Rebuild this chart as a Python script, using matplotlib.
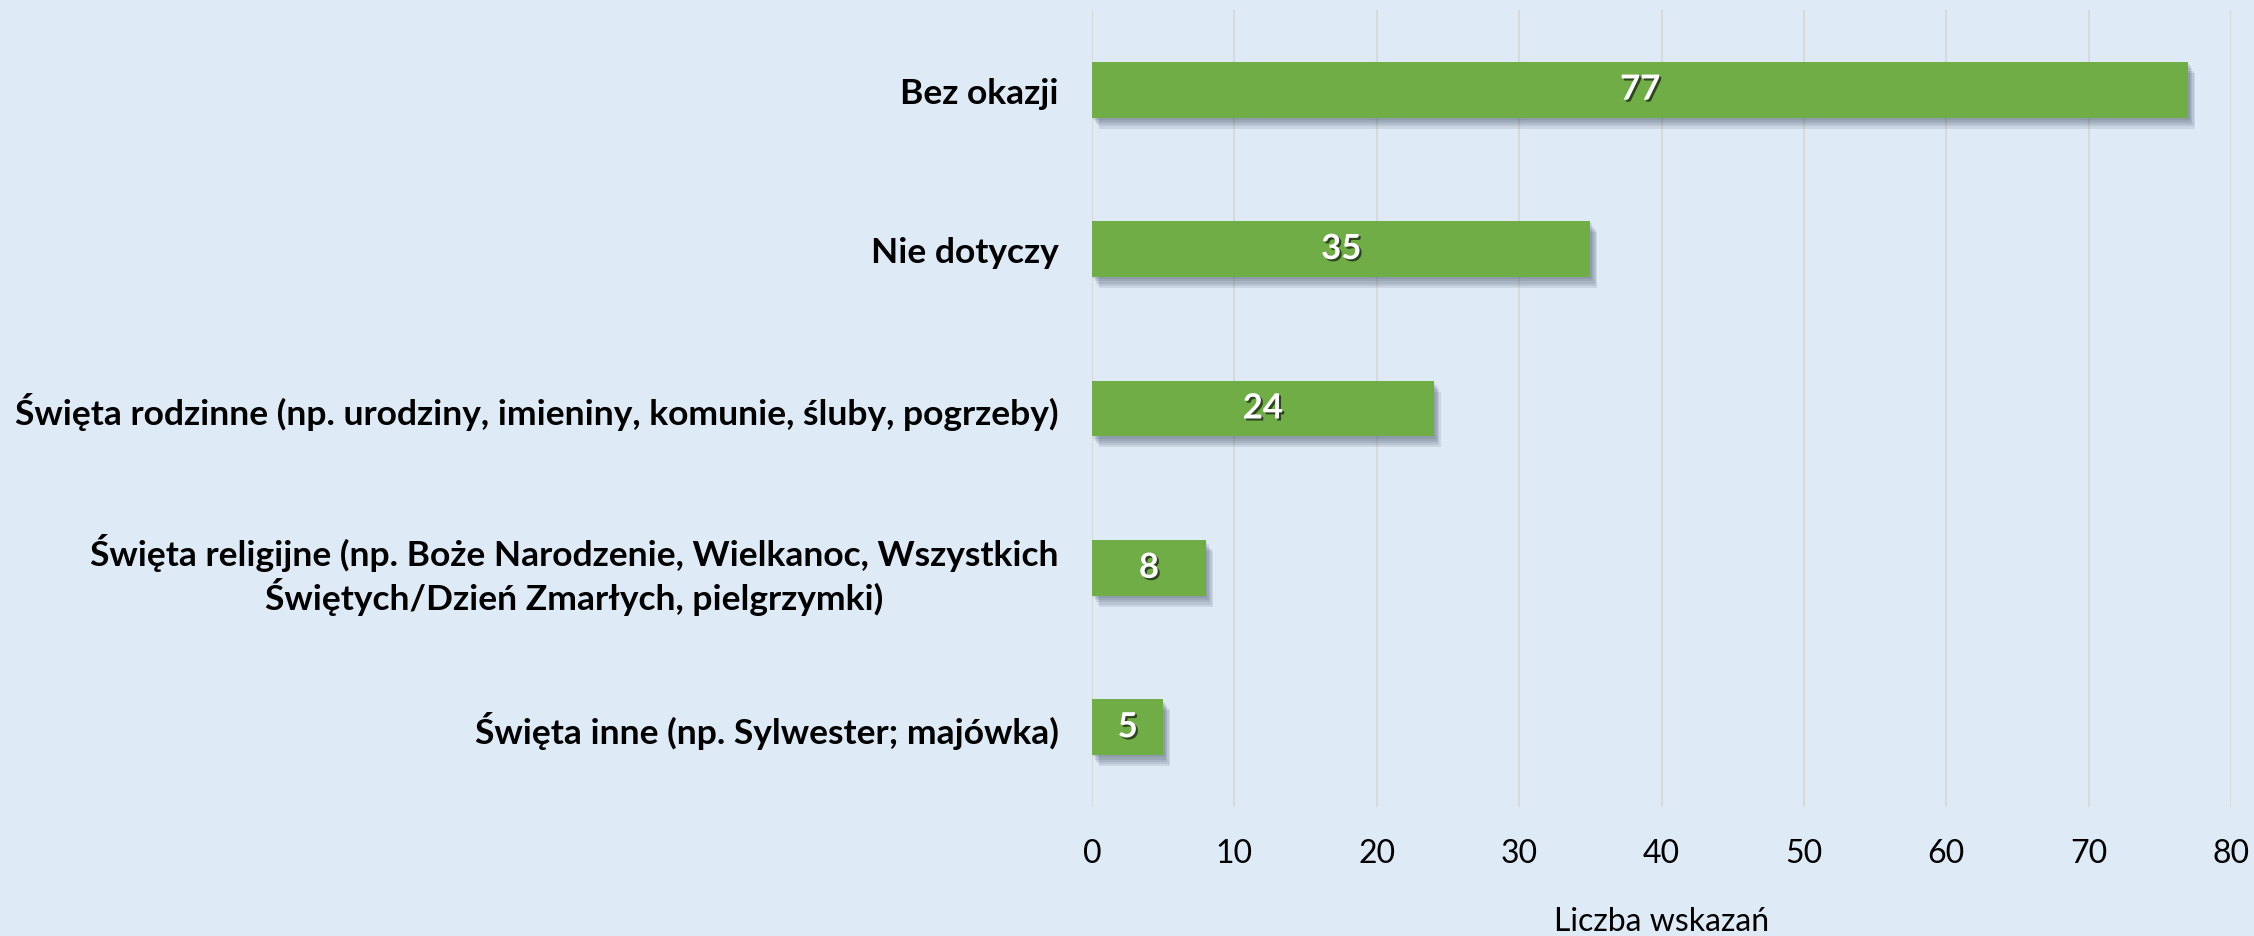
import numpy as np
import matplotlib
matplotlib.use("Agg")
import matplotlib.pyplot as plt
import matplotlib.patheffects as pe

# data
categories = [
    "Bez okazji",
    "Nie dotyczy",
    "Święta rodzinne (np. urodziny, imieniny, komunie, śluby, pogrzeby)",
    "Święta religijne (np. Boże Narodzenie, Wielkanoc, Wszystkich\nŚwiętych/Dzień Zmarłych, pielgrzymki)",
    "Święta inne (np. Sylwester; majówka)",
]
values = [77, 35, 24, 8, 5]
xticks = [0, 10, 20, 30, 40, 50, 60, 70, 80]
xlabel = "Liczba wskazań"

bg = "#DEEAF6"
green = "#70AD47"

plt.rcParams['font.family'] = ['Lato', 'DejaVu Sans']

fig = plt.figure(figsize=(22.54, 9.37), dpi=100, facecolor=bg)
ax = fig.add_axes([0.4845, 0.1377, 0.5053, 0.8506], facecolor=bg)

y = np.arange(len(categories))
bars = ax.barh(y, values, height=0.35, color=green, zorder=3)
# soft shadow: a few stacked offset layers
shadow = [pe.SimplePatchShadow(offset=(o, -1.6 * o), shadow_rgbFace='#3a4a5a', alpha=0.12)
          for o in (1, 2, 3, 4, 5)]
for b in bars:
    b.set_path_effects(shadow + [pe.Normal()])

for yi, v in zip(y, values):
    ax.text(v / 2, yi, str(v), ha='center', va='center', color='white',
            fontsize=25, fontweight='bold', zorder=4,
            path_effects=[pe.withSimplePatchShadow(offset=(1.5, -1.5), shadow_rgbFace='black', alpha=0.6)])

ax.set_ylim(len(categories) - 0.5, -0.5)
ax.set_yticks(y)
ax.set_yticklabels(categories, fontsize=25.5, fontweight='bold')
for lab in ax.get_yticklabels():
    lab.set_multialignment('center')
ax.set_xlim(0, 80)
ax.set_xticks(xticks)
ax.tick_params(axis='x', labelsize=23, length=0, pad=22)
ax.tick_params(axis='y', length=0, pad=24)
ax.set_xlabel(xlabel, fontsize=23, labelpad=28)

ax.grid(axis='x', color='#D9D9D9', linewidth=1.5, zorder=0)
for s in ax.spines.values():
    s.set_visible(False)

fig.savefig("out.png", dpi=100, facecolor=bg)
